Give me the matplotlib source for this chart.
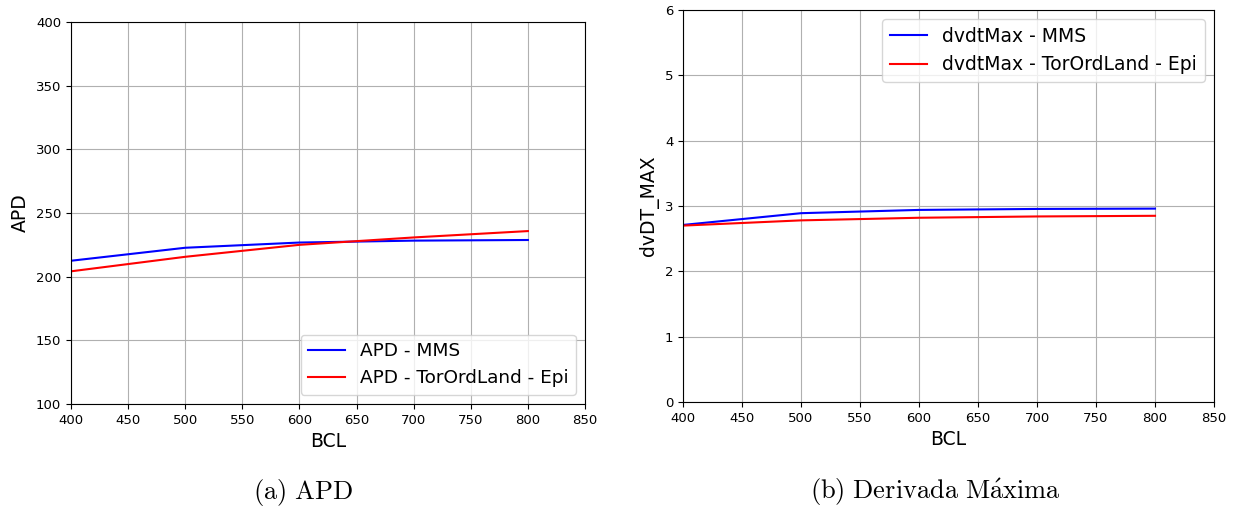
import matplotlib
matplotlib.use('Agg')
import matplotlib.pyplot as plt

plt.rcParams['mathtext.fontset'] = 'cm'

# BCL values (ms) and the measured quantities for each model
bcl = [400, 500, 600, 700, 800]
apd_mms = [212.5, 222.7, 226.8, 228.3, 228.8]
apd_tor = [204.2, 215.6, 225.0, 230.8, 235.8]
dvdt_mms = [2.71, 2.89, 2.94, 2.955, 2.96]
dvdt_tor = [2.70, 2.78, 2.82, 2.84, 2.85]

xticks = [400, 450, 500, 550, 600, 650, 700, 750, 800, 850]

fig = plt.figure(figsize=(12.42, 5.09), dpi=100)
W, H = 1242, 509

ax1 = fig.add_axes([71 / W, 1 - 404 / H, 514 / W, 382 / H])
ax2 = fig.add_axes([683 / W, 1 - 402 / H, 531 / W, 392 / H])

ax1.plot(bcl, apd_mms, color='blue', lw=1.5, label='APD - MMS')
ax1.plot(bcl, apd_tor, color='red', lw=1.5, label='APD - TorOrdLand - Epi')
ax1.set_xlim(400, 850)
ax1.set_ylim(100, 400)
ax1.set_ylabel('APD', fontsize=13.5)
ax1.legend(loc='lower right', fontsize=13.3)

ax2.plot(bcl, dvdt_mms, color='blue', lw=1.5, label='dvdtMax - MMS')
ax2.plot(bcl, dvdt_tor, color='red', lw=1.5, label='dvdtMax - TorOrdLand - Epi')
ax2.set_xlim(400, 850)
ax2.set_ylim(0, 6)
ax2.set_ylabel('dvDT_MAX', fontsize=13.5)
ax2.legend(loc='upper right', fontsize=13.5)

for ax in (ax1, ax2):
    ax.set_xticks(xticks)
    ax.set_xlabel('BCL', fontsize=13.5)
    ax.tick_params(labelsize=9.5)
    ax.grid(True, color='#b0b0b0', lw=0.8)

fig.text(303 / W, 1 - 492 / H, r'$\mathrm{(a)\ APD}$', ha='center', va='center', fontsize=19)
fig.text(935 / W, 1 - 492 / H, r'$\mathrm{(b)\ Derivada\ M\acute{a}xima}$', ha='center', va='center', fontsize=19)

fig.savefig('out.png', dpi=100)
